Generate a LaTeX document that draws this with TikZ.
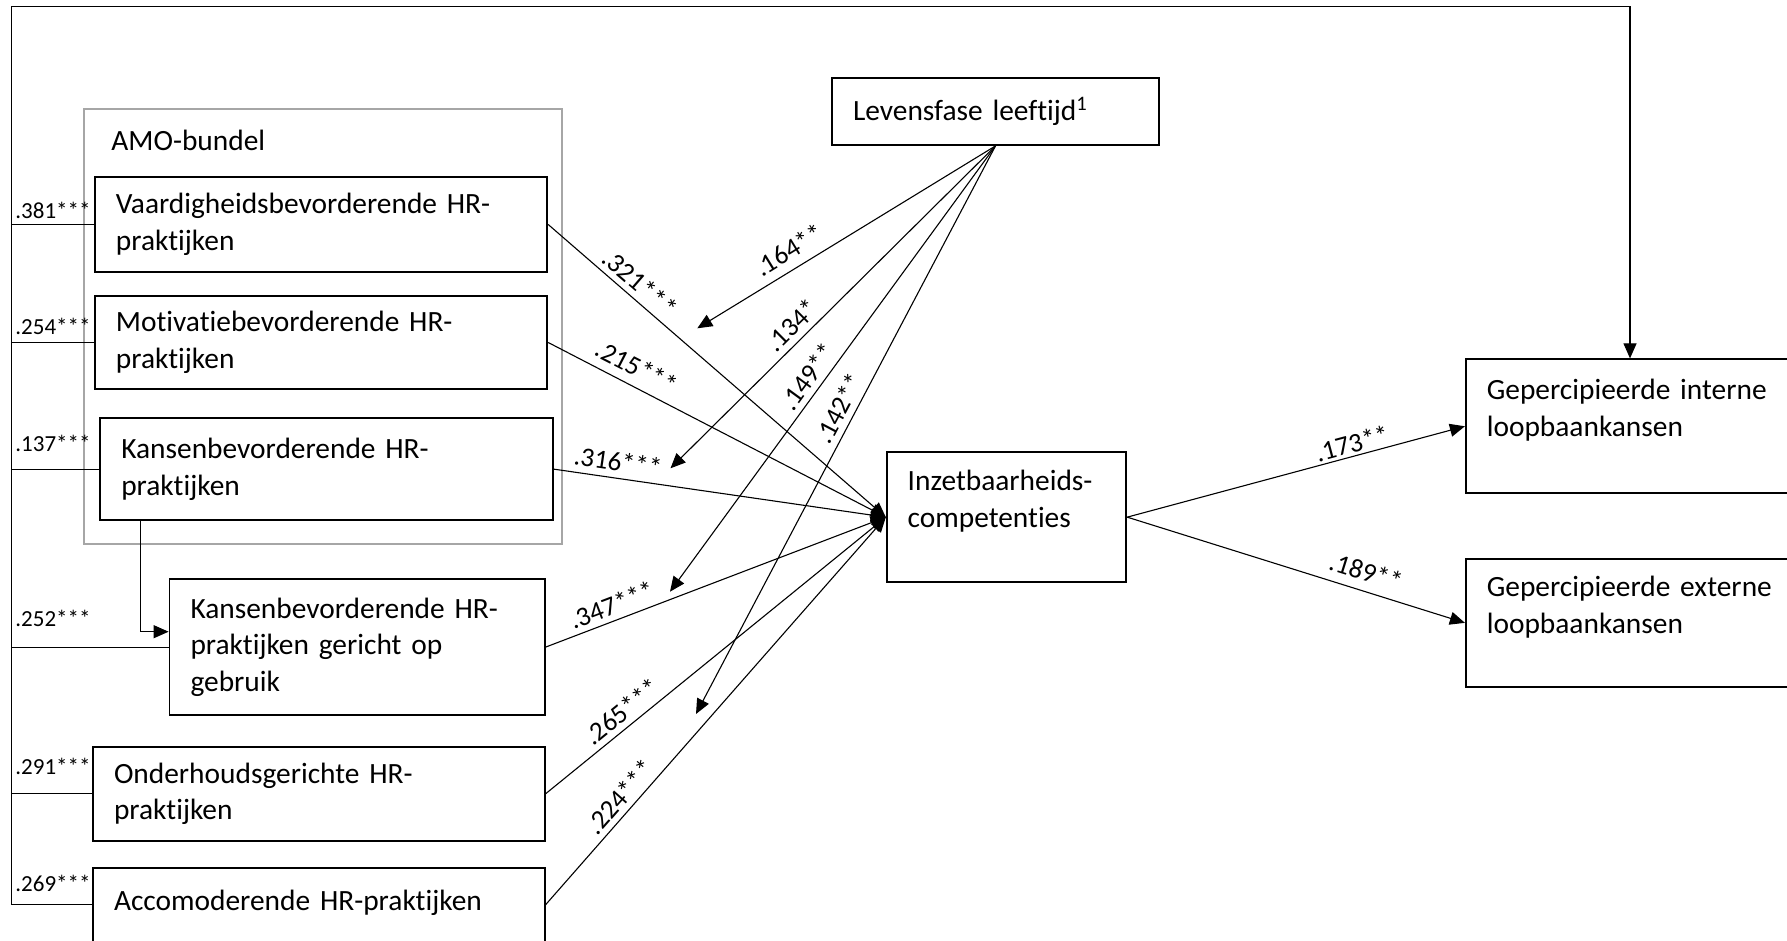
\documentclass[tikz,border=0pt]{standalone}
\usepackage{fontspec}
\setmainfont{Carlito}[Ligatures=NoCommon]
\usetikzlibrary{arrows.meta}
\definecolor{amogray}{HTML}{A6A6A6}
\begin{document}
\begin{tikzpicture}[x=0.5pt,y=-0.5pt,
  boxfont/.style={font=\fontsize{14.7}{18.3}\selectfont},
  box/.style={draw, line width=0.9pt, inner xsep=10.5pt, inner ysep=0pt, align=left, boxfont},
  conn/.style={line width=0.55pt},
  arr/.style={conn, -{Triangle[length=7.5pt,width=6.5pt]}},
  lab/.style={font=\fontsize{13.5}{16}\selectfont, inner sep=0pt},
  blab/.style={font=\fontsize{11.5}{14}\selectfont, inner sep=0pt, anchor=west},
]
\useasboundingbox (0,0) rectangle (1787,941);
\clip (0,0) rectangle (1787,941);

% AMO bundle frame
\node[draw=amogray, line width=0.8pt, minimum width=238.8pt, minimum height=217.35pt, inner sep=0pt] (amo) at (323,326.65) {};
\node[boxfont, anchor=west, inner sep=0pt] (amot) at (111,140) {AMO-bundel};

% boxes
\node[box, minimum width=226.2pt, minimum height=47.2pt, text width=205.2pt] (vaard) at (321.1,224.5) {Vaardigheidsbevorderende HR-\\praktijken};
\node[box, minimum width=226.2pt, minimum height=46.5pt, text width=205.2pt] (mot) at (321.1,342.5) {Motivatiebevorderende HR-\\praktijken};
\node[box, minimum width=226.35pt, minimum height=50.85pt, text width=205.35pt] (kans) at (326.65,469.15) {Kansenbevorderende HR-\\praktijken};
\node[box, minimum width=187.55pt, minimum height=67.85pt, text width=166.55pt] (kg) at (357.05,647.15) {Kansenbevorderende HR-\\praktijken gericht op\\gebruik};
\node[box, minimum width=225.8pt, minimum height=47.15pt, text width=204.8pt] (ond) at (318.8,793.85) {Onderhoudsgerichte HR-\\praktijken};
\node[box, minimum width=225.8pt, minimum height=37.15pt, text width=204.8pt] (acc) at (318.8,904.85) {Accomoderende HR-praktijken\\[-13.5pt]\mbox{}};
\node[box, minimum width=163.5pt, minimum height=33.35pt, text width=142.5pt] (lev) at (995.5,111.65) {Levensfase leeftijd\textsuperscript{1}};
\node[box, minimum width=119.8pt, minimum height=64.85pt, text width=98.8pt] (inz) at (1006.5,517.15) {Inzetbaarheids-\\competenties\\\mbox{}};
\node[box, minimum width=164.2pt, minimum height=67pt, text width=143.2pt] (gint) at (1630,426.3) {Gepercipieerde interne\\loopbaankansen\\\mbox{}};
\node[box, minimum width=164.2pt, minimum height=63.85pt, text width=143.2pt] (gext) at (1630,622.85) {Gepercipieerde externe\\loopbaankansen\\\mbox{}};

% outer bus
\coordinate (bl) at (11.5,904.85);
\coordinate (tl) at (11.5,6.7);
\draw[arr] (acc.west) -- (bl) -- (tl) -- (tl -| gint.north) -- (gint.north);
\foreach \n in {vaard,mot,kans,kg,ond} \draw[conn] (\n.west) -- (\n.west -| bl);

% elbow arrow
\coordinate (elb) at (140.5,631.7);
\draw[arr] (kans.south -| elb) |- (kg.west |- elb);

% arrows into Inzetbaarheid
\foreach \n in {vaard,mot,kans,kg,ond,acc} \draw[arr] (\n.east) -- (inz.west);

% arrows from Levensfase
\coordinate (e164) at (697.3,328.3);
\coordinate (e134) at (670.5,468.3);
\coordinate (e149) at (670,591.7);
\coordinate (e142) at (696,714);
\foreach \e in {e164,e134,e149,e142} \draw[arr] (lev.south) -- (\e);

% outcome arrows
\draw[arr] (inz.east) -- (gint.west);
\draw[arr] (inz.east) -- (gext.west);

% path labels
\node[lab, rotate=-40.8] (l321) at (640,283) {.321***};
\node[lab, rotate=-27.2] (l215) at (637,366.7) {.215***};
\node[lab, rotate=-8.2] (l316) at (618,461.7) {.316***};
\node[lab, rotate=20.8] (l347) at (611.7,605) {.347***};
\node[lab, rotate=39] (l265) at (621.7,711.7) {.265***};
\node[lab, rotate=48.6] (l224) at (620,796.7) {.224***};
\node[lab, rotate=31.6] (l164) at (789,250) {.164**};
\node[lab, rotate=44.8] (l134) at (792,325) {.134*};
\node[lab, rotate=53.9] (l149) at (808,376.7) {.149**};
\node[lab, rotate=62.2] (l142) at (839,408.3) {.142**};
\node[lab, rotate=15] (l173) at (1352,443.3) {.173**};
\node[lab, rotate=-17.3] (l189) at (1366,571.7) {.189**};

% bus labels
\node[blab] (b381) at (15,210) {.381***};
\node[blab] (b254) at (15,326.7) {.254***};
\node[blab] (b137) at (15,443.3) {.137***};
\node[blab] (b252) at (15,618.3) {.252***};
\node[blab] (b291) at (15,766.7) {.291***};
\node[blab] (b269) at (15,883.3) {.269***};
\end{tikzpicture}
\end{document}
